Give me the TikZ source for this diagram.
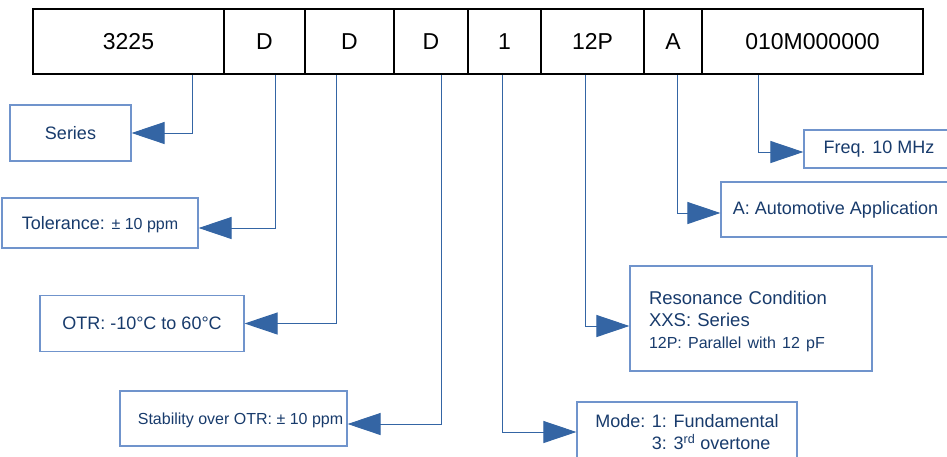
\documentclass[tikz,border=0pt]{standalone}
\usepackage{fontspec}
\setmainfont{Liberation Sans}
\usetikzlibrary{arrows.meta}

\definecolor{boxline}{HTML}{7094CC}
\definecolor{boxtext}{HTML}{183B6C}
\definecolor{arrowblue}{HTML}{3465A4}

\tikzset{
  cell/.style={draw=black, line width=2pt, minimum height=65pt, inner sep=0pt,
    font=\fontsize{23}{26}\selectfont},
  info/.style={draw=boxline, line width=1.2pt, text=boxtext, inner sep=0pt,
    font=\fontsize{18}{22}\selectfont},
  conn/.style={draw=arrowblue, line width=1pt,
    -{Triangle[length=33pt,width=22pt,fill=arrowblue]}}
}

\begin{document}
\begin{tikzpicture}[x=1pt,y=-1pt]
  \useasboundingbox (0,0) rectangle (947,456);
  \clip (0,0) rectangle (947,456);
  \fill[white] (0,0) rectangle (947,456);

  % part number
  \node[cell, minimum width=191pt] (p3225) at (128.5,41.5) {3225};
  \node[cell, minimum width=81pt]  (pD1)   at (264.5,41.5) {D};
  \node[cell, minimum width=89pt]  (pD2)   at (349.5,41.5) {D};
  \node[cell, minimum width=74pt]  (pD3)   at (431,41.5) {D};
  \node[cell, minimum width=73pt]  (p1)    at (504.5,41.5) {1};
  \node[cell, minimum width=103pt] (p12P)  at (592.5,41.5) {12P};
  \node[cell, minimum width=58pt]  (pA)    at (673,41.5) {A};
  \node[cell, minimum width=221pt] (pFreq) at (812.5,41.5) {010M000000};

  % description boxes
  \node[info, minimum width=121pt, minimum height=56pt] (series) at (70.5,133) {Series};
  \node[info, minimum width=196pt, minimum height=50pt, text depth=0pt] (tol) at (100,223)
    {Tolerance: {\fontsize{16}{19}\selectfont ± 10 ppm}};
  \node[info, minimum width=204pt, minimum height=56pt] (otr) at (142,323.5)
    {OTR: -10°C to 60°C};
  \node[info, minimum width=227pt, minimum height=55pt, text depth=0pt] (stab) at (233.5,418.5)
    {\hspace{14pt}\fontsize{16}{19}\selectfont Stability over OTR: ± 10 ppm};
  \node[info, text width=204pt, inner xsep=19pt, minimum height=105pt, align=left,
    font=\fontsize{18.5}{22}\selectfont] (reso) at (751,318.5)
    {\rule{0pt}{20pt}Resonance Condition\\XXS: Series\\{\fontsize{16}{21}\selectfont 12P: Parallel with 12 pF}};
  \node[info, minimum width=220pt, minimum height=60pt, align=left,
    font=\fontsize{18}{22}\selectfont] (mode) at (687,432)
    {Mode: 1: Fundamental\\\hphantom{Mode: }3: 3\textsuperscript{rd} overtone};
  \node[info, minimum width=150pt, minimum height=38pt] (freq) at (879,149) {Freq. 10 MHz};
  \node[info, minimum width=229pt, minimum height=55pt] (appl) at (835.5,209.5)
    {A: Automotive Application};

  % connectors
  \draw[conn] ([xshift=63.5pt]p3225.south) |- (series.east);
  \draw[conn] ([xshift=10.5pt]pD1.south) |- ([yshift=-5pt]tol.east);
  \draw[conn] ([xshift=-13.5pt]pD2.south) |- (otr.east);
  \draw[conn] ([xshift=10pt]pD3.south) |- ([yshift=-5.5pt]stab.east);
  \draw[conn] ([xshift=-2.5pt]p1.south) |- (mode.west);
  \draw[conn] ([xshift=-7.5pt]p12P.south) |- ([yshift=-7.5pt]reso.west);
  \draw[conn] ([xshift=4pt]pA.south) |- ([yshift=-3.5pt]appl.west);
  \draw[conn] ([xshift=-54.5pt]pFreq.south) |- ([yshift=-3pt]freq.west);
\end{tikzpicture}
\end{document}
